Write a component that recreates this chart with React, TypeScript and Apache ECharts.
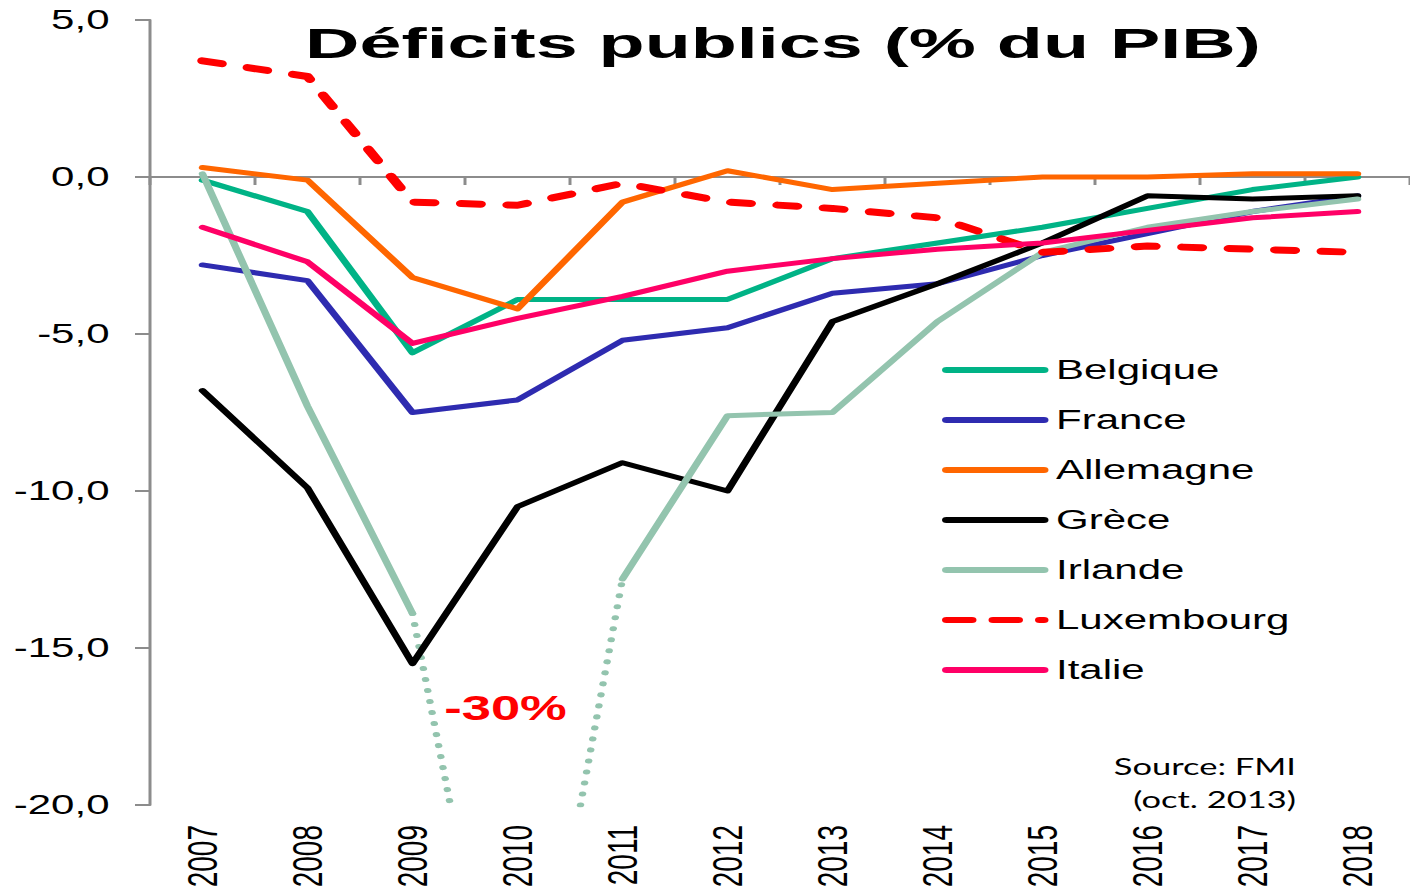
import React, { useEffect, useRef } from "react";
import * as echarts from "echarts";

const years = ["2007", "2008", "2009", "2010", "2011", "2012", "2013", "2014", "2015", "2016", "2017", "2018"];

const belgique = [-0.1, -1.1, -5.6, -3.9, -3.9, -3.9, -2.6, -2.1, -1.6, -1.0, -0.4, 0.0];
const france = [-2.8, -3.3, -7.5, -7.1, -5.2, -4.8, -3.7, -3.4, -2.5, -1.8, -1.1, -0.6];
const allemagne = [0.3, -0.1, -3.2, -4.2, -0.8, 0.2, -0.4, -0.2, 0.0, 0.0, 0.1, 0.1];
const grece = [-6.8, -9.9, -15.5, -10.5, -9.1, -10.0, -4.6, -3.4, -2.1, -0.6, -0.7, -0.6];
const irlande = [0.1, -7.3, -13.9, null, -12.8, -7.6, -7.5, -4.6, -2.4, -1.6, -1.1, -0.7];
const irlandeHorsEchelle = [null, null, -13.9, -30.8, -12.8, null, null, null, null, null, null, null];
const luxembourg = [3.7, 3.2, -0.8, -0.9, -0.2, -0.8, -1.0, -1.3, -2.4, -2.2, -2.3, -2.4];
const italie = [-1.6, -2.7, -5.3, -4.5, -3.8, -3.0, -2.6, -2.3, -2.1, -1.7, -1.3, -1.1];

const seriesNames = ["Belgique", "France", "Allemagne", "Grèce", "Irlande", "Luxembourg", "Italie"];
const seriesColors = ["#00B386", "#2E2BB0", "#FF6600", "#000000", "#93C4AE", "#FF0000", "#FF0066"];
const seriesData = [belgique, france, allemagne, grece, irlande, luxembourg, italie];

const titleText = "Déficits publics (% du PIB)";
const annotationText = "-30%";
const annotationYear = "2010";
const annotationValue = -16.9;
const sourceLines = ["Source: FMI", "(oct. 2013)"];

const STRETCH = 1.5;
const W = 940;
const H = 892;
const AXIS_GRAY = "#8C8C8C";
const FONT = "'Liberation Sans', Arial, Helvetica, sans-serif";

const SOLID_ICON = "path://M3,0H68A3,3 0 0 1 68,6H3A3,3 0 0 1 3,0Z";
const DASH_ICON =
  "path://M3,0H20A3,3 0 0 1 20,6H3A3,3 0 0 1 3,0Z M34,0H51A3,3 0 0 1 51,6H34A3,3 0 0 1 34,0Z M65,0H68A3,3 0 0 1 68,6H65A3,3 0 0 1 65,0Z";

export default function App() {
  const ref = useRef<HTMLDivElement>(null);

  useEffect(() => {
    if (!ref.current) return;
    const chart = echarts.init(ref.current, null, { renderer: "svg" });

    const mainSeries = seriesNames.map((name, i) => ({
      name,
      type: "line",
      data: seriesData[i],
      symbol: "none",
      showSymbol: false,
      connectNulls: false,
      color: seriesColors[i],
      itemStyle: { color: seriesColors[i] },
      lineStyle: {
        color: seriesColors[i],
        width: name === "Luxembourg" ? 7 : 5,
        type: name === "Luxembourg" ? [13, 18] : "solid",
        cap: "round",
        join: "round",
      },
      z: 3,
    }));

    const option = {
      animation: false,
      backgroundColor: "#ffffff",
      grid: { left: 100, top: 20, width: 849, height: 785, containLabel: false },
      xAxis: [
        {
          type: "category",
          data: years,
          position: "bottom",
          boundaryGap: true,
          axisLine: { show: true, onZero: true, lineStyle: { color: AXIS_GRAY, width: 2 } },
          axisTick: { show: true, length: 8, lineStyle: { color: AXIS_GRAY, width: 2 } },
          axisLabel: { show: false },
          splitLine: { show: false },
        },
        {
          type: "category",
          data: years,
          position: "bottom",
          boundaryGap: true,
          axisLine: { show: false, onZero: false },
          axisTick: { show: false },
          axisLabel: {
            show: true,
            rotate: 90,
            margin: 20,
            fontSize: 28,
            fontFamily: FONT,
            color: "#000",
            interval: 0,
          },
          splitLine: { show: false },
        },
      ],
      yAxis: {
        type: "value",
        min: -20,
        max: 5,
        interval: 5,
        axisLine: { show: true, lineStyle: { color: AXIS_GRAY, width: 2 } },
        axisTick: { show: true, length: 10, lineStyle: { color: AXIS_GRAY, width: 2 } },
        splitLine: { show: false },
        axisLabel: {
          margin: 27,
          fontSize: 28,
          fontFamily: FONT,
          color: "#000",
          formatter: (v: number) => v.toFixed(1).replace(".", ","),
        },
      },
      legend: {
        data: seriesNames.map((name) => ({
          name,
          icon: name === "Luxembourg" ? DASH_ICON : SOLID_ICON,
        })),
        orient: "vertical",
        left: 623,
        top: 350,
        itemWidth: 71,
        itemHeight: 6,
        itemGap: 20,
        textStyle: { fontSize: 28, fontFamily: FONT, color: "#000", lineHeight: 30 },
      },
      graphic: [
        {
          type: "text",
          x: 522,
          y: 43,
          scaleX: 1.17,
          style: {
            text: titleText,
            fontSize: 43,
            fontWeight: "bold",
            fontFamily: FONT,
            fill: "#000",
            align: "center",
            verticalAlign: "middle",
            textAlign: "center",
            textVerticalAlign: "middle",
          },
        },
        ...sourceLines.map((t, i) => ({
          type: "text",
          x: 864,
          y: 766 + i * 33,
          style: {
            text: t,
            fontSize: 23,
            fontFamily: "Lato, 'Open Sans', sans-serif",
            fill: "#000",
            align: "right",
            verticalAlign: "middle",
            textAlign: "right",
            textVerticalAlign: "middle",
          },
        })),
      ],
      series: [
        ...mainSeries,
        {
          name: "Irlande (hors échelle)",
          type: "line",
          data: irlandeHorsEchelle,
          symbol: "none",
          showSymbol: false,
          connectNulls: false,
          color: "#93C4AE",
          lineStyle: { color: "#93C4AE", width: 5, type: [0.1, 11], cap: "round" },
          z: 2,
          markPoint: {
            symbol: "circle",
            symbolSize: 1,
            itemStyle: { color: "rgba(0,0,0,0)" },
            label: {
              show: true,
              position: "inside",
              offset: [-8, 0],
              formatter: annotationText,
              color: "#FF0000",
              fontWeight: "bold",
              fontSize: 35,
              fontFamily: FONT,
            },
            data: [{ coord: [annotationYear, annotationValue] }],
          },
        },
      ],
    };

    chart.setOption(option as any);
    return () => chart.dispose();
  }, []);

  return (
    <div style={{ position: "absolute", left: 0, top: 0, width: 1410, height: H, overflow: "hidden", background: "#fff" }}>
      <div
        ref={ref}
        style={{
          width: W,
          height: H,
          transform: `scaleX(${STRETCH})`,
          transformOrigin: "0 0",
        }}
      />
    </div>
  );
}
